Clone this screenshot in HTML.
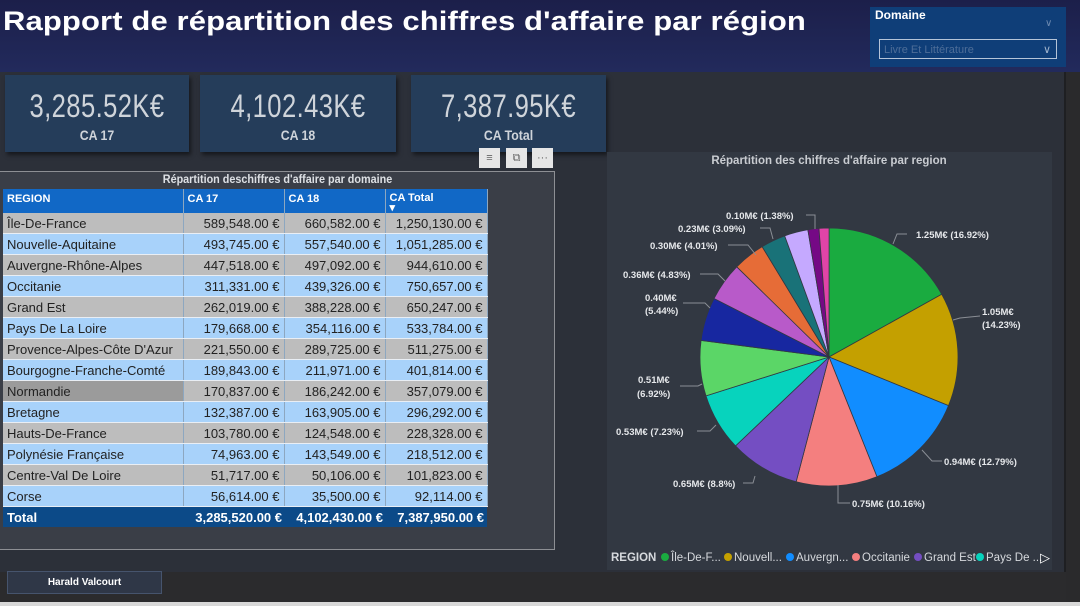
<!DOCTYPE html>
<html><head><meta charset="utf-8">
<style>
body{margin:0;width:1080px;height:606px;overflow:hidden;background:#2c3039;font-family:"Liberation Sans",sans-serif;position:relative}
.a{position:absolute}
.hdr{left:0;top:0;width:1080px;height:72px;background:linear-gradient(#1c1f4a,#222a5c)}
.title{left:3px;top:6px;color:#fff;font-weight:bold;font-size:26.5px;transform:scaleX(1.17);transform-origin:left top;letter-spacing:0.1px}
.card{background:#253d5a;box-shadow:2px 3px 4px rgba(0,0,0,.5);height:77px;top:75px;color:#cfd4da;text-align:center}
.card .v{font-size:32px;margin-top:13px;transform:scaleX(0.8);letter-spacing:0.5px}
.card .l{font-weight:bold;font-size:14px;margin-top:2px;transform:scaleX(0.88)}
table{border-collapse:collapse;font-size:13px;font-family:"Liberation Sans",sans-serif;table-layout:fixed}
td{height:20px;padding:0 4px;border-right:1px solid #8da7c0;border-bottom:1px solid #e9eef4;white-space:nowrap;color:#222;overflow:hidden}
td.n{text-align:right}
tr.g td{background:#bdbdbd}
tr.b td{background:#a8d2fa}
.ic{top:148px;width:21px;height:20px;background:#e6e6e6;color:#666;font-size:11px;text-align:center;line-height:20px}
.hd{background:#1168c6;color:#fff;font-weight:bold;font-size:11px;vertical-align:top;padding-top:4px;border-bottom:none}
.tt{background:#0c4a88;color:#fff;font-weight:bold;border:none;font-size:13px;padding:0 2px}
</style></head><body>
<div class="a hdr"></div>
<div class="a title">Rapport de répartition des chiffres d'affaire par région</div>
<div class="a" style="left:870px;top:7px;width:196px;height:60px;background:#0f3e78"></div>
<div class="a" style="left:875px;top:8px;color:#fff;font-weight:bold;font-size:12px">Domaine</div>
<div class="a" style="left:1045px;top:18px;color:#6c89b0;font-size:10px">&#8744;</div>
<div class="a" style="left:879px;top:39px;width:178px;height:20px;border:1px solid #b5c4d8;color:#4d6d98;font-size:11px;line-height:20px;padding-left:4px;box-sizing:border-box">Livre Et Littérature<span style="position:absolute;right:5px;color:#9fb3cd">&#8744;</span></div>
<div class="a" style="left:1064px;top:72px;width:16px;height:534px;background:#2a2a2c;border-left:2px solid #1e1f22"></div>
<div class="a" style="left:0;top:572px;width:1066px;height:34px;background:#2b2b2d"></div>
<div class="a" style="left:0;top:602px;width:1080px;height:4px;background:#d8d8d8"></div>

<div class="a card" style="left:5px;width:184px"><div class="v">3,285.52K€</div><div class="l">CA 17</div></div>
<div class="a card" style="left:200px;width:196px"><div class="v">4,102.43K€</div><div class="l">CA 18</div></div>
<div class="a card" style="left:411px;width:195px"><div class="v">7,387.95K€</div><div class="l">CA Total</div></div>
<div class="a ic" style="left:479px">&#8801;</div>
<div class="a ic" style="left:506px">&#10697;</div>
<div class="a ic" style="left:532px">···</div>

<div class="a" style="left:-1px;top:171px;width:554px;height:377px;border:1px solid #8d8f94;background:#3a3e47"></div>
<div class="a" style="left:0;top:172px;width:555px;text-align:center;color:#dde0e4;font-weight:bold;font-size:12px;transform:scaleX(0.9)">Répartition deschiffres d'affaire par domaine</div>
<div class="a" style="left:3px;top:189px">
<table style="width:484px">
<colgroup><col style="width:180px"><col style="width:101px"><col style="width:101px"><col style="width:102px"></colgroup>
<tr style="height:24px"><td class="hd">REGION</td><td class="hd">CA 17</td><td class="hd">CA 18</td><td class="hd" style="line-height:10px">CA Total<br>▾</td></tr>
<tr class="g"><td>Île-De-France</td><td class="n">589,548.00 €</td><td class="n">660,582.00 €</td><td class="n">1,250,130.00 €</td></tr>
<tr class="b"><td>Nouvelle-Aquitaine</td><td class="n">493,745.00 €</td><td class="n">557,540.00 €</td><td class="n">1,051,285.00 €</td></tr>
<tr class="g"><td>Auvergne-Rhône-Alpes</td><td class="n">447,518.00 €</td><td class="n">497,092.00 €</td><td class="n">944,610.00 €</td></tr>
<tr class="b"><td>Occitanie</td><td class="n">311,331.00 €</td><td class="n">439,326.00 €</td><td class="n">750,657.00 €</td></tr>
<tr class="g"><td>Grand Est</td><td class="n">262,019.00 €</td><td class="n">388,228.00 €</td><td class="n">650,247.00 €</td></tr>
<tr class="b"><td>Pays De La Loire</td><td class="n">179,668.00 €</td><td class="n">354,116.00 €</td><td class="n">533,784.00 €</td></tr>
<tr class="g"><td>Provence-Alpes-Côte D'Azur</td><td class="n">221,550.00 €</td><td class="n">289,725.00 €</td><td class="n">511,275.00 €</td></tr>
<tr class="b"><td>Bourgogne-Franche-Comté</td><td class="n">189,843.00 €</td><td class="n">211,971.00 €</td><td class="n">401,814.00 €</td></tr>
<tr class="g"><td style="background:#9b9b9b">Normandie</td><td class="n">170,837.00 €</td><td class="n">186,242.00 €</td><td class="n">357,079.00 €</td></tr>
<tr class="b"><td>Bretagne</td><td class="n">132,387.00 €</td><td class="n">163,905.00 €</td><td class="n">296,292.00 €</td></tr>
<tr class="g"><td>Hauts-De-France</td><td class="n">103,780.00 €</td><td class="n">124,548.00 €</td><td class="n">228,328.00 €</td></tr>
<tr class="b"><td>Polynésie Française</td><td class="n">74,963.00 €</td><td class="n">143,549.00 €</td><td class="n">218,512.00 €</td></tr>
<tr class="g"><td>Centre-Val De Loire</td><td class="n">51,717.00 €</td><td class="n">50,106.00 €</td><td class="n">101,823.00 €</td></tr>
<tr class="b"><td>Corse</td><td class="n">56,614.00 €</td><td class="n">35,500.00 €</td><td class="n">92,114.00 €</td></tr>
<tr><td class="tt" style="padding:0 4px">Total</td><td class="n tt">3,285,520.00 €</td><td class="n tt">4,102,430.00 €</td><td class="n tt" style="padding:0 3px">7,387,950.00 €</td></tr>
</table></div>

<div class="a" style="left:7px;top:571px;width:153px;height:21px;background:#2f3747;border:1px solid #46546d;color:#fff;font-weight:bold;font-size:10px;text-align:center;line-height:21px">Harald Valcourt</div>

<div class="a" style="left:607px;top:152px;width:445px;height:418px;background:#323842"></div>
<svg class="a" style="left:0;top:0" width="1080" height="606" id="s">
<text x="829" y="164" fill="#c9ccd1" font-size="11.5" font-weight="bold" text-anchor="middle" font-family="Liberation Sans, sans-serif">Répartition des chiffres d'affaire par region</text>
<g id="pie"></g>
<g fill="none" stroke="#8a8e95" stroke-width="1">
<polyline points="806,215 815,215 815,229"/>
<polyline points="760,228 770,228 773,239"/>
<polyline points="728,245 748,245 756,255"/>
<polyline points="700,274 718,274 725,281"/>
<polyline points="683,303 705,303 710,308"/>
<polyline points="907,234 897,234 893,244"/>
<polyline points="980,316 960,318 953,320"/>
<polyline points="680,386 698,386 702,384"/>
<polyline points="697,431 710,431 716,425"/>
<polyline points="942,461 932,461 922,450"/>
<polyline points="743,483 753,483 755,476"/>
<polyline points="850,503 838,503 838,485"/>
</g>
<g fill="#e6e8eb" font-size="9.5" font-weight="bold" font-family="Liberation Sans, sans-serif">
<text x="726" y="219">0.10M€ (1.38%)</text>
<text x="678" y="232">0.23M€ (3.09%)</text>
<text x="650" y="249">0.30M€ (4.01%)</text>
<text x="623" y="278">0.36M€ (4.83%)</text>
<text x="645" y="301">0.40M€</text><text x="645" y="314">(5.44%)</text>
<text x="916" y="238">1.25M€ (16.92%)</text>
<text x="982" y="315">1.05M€</text><text x="982" y="328">(14.23%)</text>
<text x="638" y="383">0.51M€</text><text x="637" y="397">(6.92%)</text>
<text x="616" y="435">0.53M€ (7.23%)</text>
<text x="944" y="465">0.94M€ (12.79%)</text>
<text x="673" y="487">0.65M€ (8.8%)</text>
<text x="852" y="507">0.75M€ (10.16%)</text>
</g>
<g font-size="11.5" font-family="Liberation Sans, sans-serif" fill="#d6d9dd">
<text x="611" y="561" font-weight="bold">REGION</text>
<circle cx="665" cy="557" r="4" fill="#1aab40"/><text x="671" y="561">Île-De-F...</text>
<circle cx="728" cy="557" r="4" fill="#c4a000"/><text x="734" y="561">Nouvell...</text>
<circle cx="790" cy="557" r="4" fill="#118dff"/><text x="796" y="561">Auvergn...</text>
<circle cx="856" cy="557" r="4" fill="#f47f7f"/><text x="862" y="561">Occitanie</text>
<circle cx="918" cy="557" r="4" fill="#744ec2"/><text x="924" y="561">Grand Est</text>
<circle cx="980" cy="557" r="4" fill="#07d3bd"/><text x="986" y="561">Pays De ...</text>
<text x="1040" y="562" fill="#fff" font-size="13">▷</text>
</g>
</svg>
<script>
var p=[16.92,14.23,12.79,10.16,8.80,7.23,6.92,5.44,4.83,4.01,3.09,2.96,1.38,1.25];
var c=["#1aab40","#c4a000","#118dff","#f47f7f","#744ec2","#07d3bd","#5bd667","#1727a0","#b85ac9","#e66c37","#197278","#c5a9ff","#750985","#e044a7"];
var cx=829,cy=357,r=129,a=0,s="";
for(var i=0;i<p.length;i++){var b=a+p[i]/100*2*Math.PI;
var x1=cx+r*Math.sin(a),y1=cy-r*Math.cos(a),x2=cx+r*Math.sin(b),y2=cy-r*Math.cos(b);
s+='<path d="M'+cx+','+cy+'L'+x1+','+y1+'A'+r+','+r+' 0 '+(b-a>Math.PI?1:0)+' 1 '+x2+','+y2+'Z" fill="'+c[i]+'" stroke="#323842" stroke-width="0.8"/>';a=b;}
document.getElementById("pie").innerHTML=s;
</script>
</body></html>
